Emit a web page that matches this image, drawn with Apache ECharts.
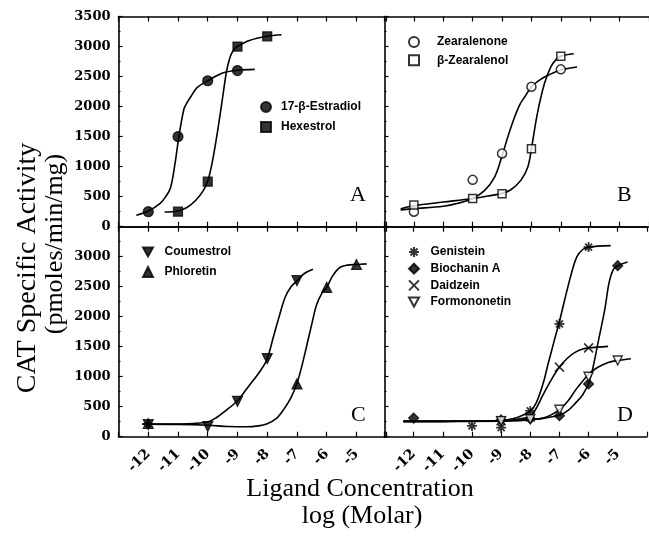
<!DOCTYPE html>
<html><head><meta charset="utf-8">
<script src="https://cdn.jsdelivr.net/npm/echarts@6/dist/echarts.min.js"></script>
<style>html,body{margin:0;padding:0;background:#fff}#c{width:649px;height:539px}</style>
</head><body><div id="c"></div>
<script>
// ---- axis ticks ----
const xTickLabels = [-12, -11, -10, -9, -8, -7, -6, -5];
const yTickValues = [0, 500, 1000, 1500, 2000, 2500, 3000, 3500];

// ---- Panel A ----
const estradiolX = [-12, -11, -10, -9];
const estradiolY = [250, 1500, 2430, 2600];
const hexestrolX = [-11, -10, -9, -8];
const hexestrolY = [250, 750, 3000, 3170];
const estradiolCurveX = [-12.4, -12, -11.6, -11.4, -11.25, -11.1, -10.97, -10.8, -10.7, -10.55, -10.35, -10, -9.5, -9, -8.42];
const estradiolCurveY = [190, 260, 390, 510, 650, 1050, 1500, 1960, 2060, 2180, 2320, 2430, 2560, 2605, 2620];
const hexestrolCurveX = [-11.45, -11, -10.7, -10.4, -10.15, -10, -9.9, -9.8, -9.65, -9.5, -9.37, -9.25, -9.12, -9, -8.6, -8, -7.52];
const hexestrolCurveY = [245, 262, 320, 440, 600, 760, 950, 1200, 1650, 2150, 2580, 2820, 2950, 3000, 3100, 3170, 3195];

// ---- Panel B ----
const zearalenoneX = [-12, -10, -9, -8, -7];
const zearalenoneY = [250, 780, 1220, 2330, 2620];
const zearalenolX = [-12, -10, -9, -8, -7];
const zearalenolY = [360, 470, 550, 1300, 2840];
const zearalenoneCurveX = [-12.45, -12, -11, -10.5, -10, -9.6, -9.25, -9, -8.8, -8.57, -8.4, -8.23, -8, -7.7, -7.4, -7, -6.45];
const zearalenoneCurveY = [280, 300, 340, 390, 470, 600, 830, 1180, 1500, 1830, 2030, 2160, 2330, 2450, 2530, 2610, 2660];
const zearalenolCurveX = [-12.45, -12, -11, -10, -9.5, -9, -8.7, -8.35, -8.12, -8, -7.8, -7.56, -7.34, -7.15, -7, -6.56];
const zearalenolCurveY = [300, 350, 410, 470, 510, 555, 615, 780, 1000, 1300, 1880, 2380, 2660, 2790, 2840, 2880];

// ---- Panel C ----
const coumestrolX = [-12, -10, -9, -8, -7];
const coumestrolY = [200, 170, 590, 1300, 2600];
const phloretinX = [-12, -7, -6, -5];
const phloretinY = [220, 880, 2490, 2870];
const coumestrolCurveX = [-12.2, -11.5, -11, -10.5, -10, -9.7, -9.37, -9, -8.7, -8.47, -8.2, -8, -7.8, -7.6, -7.4, -7.2, -7, -6.75, -6.46];
const coumestrolCurveY = [210, 210, 212, 220, 245, 320, 443, 600, 790, 940, 1120, 1300, 1650, 2000, 2320, 2500, 2600, 2720, 2790];
const phloretinCurveX = [-12.2, -11, -10, -9.3, -8.7, -8.3, -8, -7.7, -7.46, -7.2, -7, -6.85, -6.68, -6.5, -6.34, -6.15, -6, -5.8, -5.56, -5.3, -5, -4.66];
const phloretinCurveY = [210, 205, 190, 170, 165, 180, 215, 300, 443, 650, 890, 1150, 1500, 1880, 2200, 2400, 2490, 2680, 2820, 2860, 2870, 2880];

// ---- Panel D ----
const genisteinX = [-10, -9, -8, -7, -6];
const genisteinY = [180, 150, 430, 1880, 3160];
const biochaninX = [-12, -9, -8, -7, -6, -5];
const biochaninY = [310, 280, 300, 350, 880, 2850];
const daidzeinX = [-9, -8, -7, -6];
const daidzeinY = [270, 330, 1160, 1480];
const formononetinX = [-9, -8, -7, -6, -5];
const formononetinY = [260, 290, 450, 1000, 1270];
const genisteinCurveX = [-12.35, -11, -10, -9, -8.6, -8.3, -8, -7.8, -7.56, -7.4, -7.2, -7, -6.8, -6.6, -6.4, -6.2, -6, -5.24];
const genisteinCurveY = [255, 256, 258, 265, 300, 350, 430, 560, 886, 1190, 1560, 1920, 2320, 2700, 3000, 3120, 3160, 3185];
const biochaninCurveX = [-12.35, -11, -10, -9, -8.5, -8, -7.5, -7, -6.7, -6.45, -6.2, -6, -5.85, -5.67, -5.44, -5.3, -5.15, -5, -4.66];
const biochaninCurveY = [255, 256, 258, 262, 270, 285, 310, 360, 440, 560, 700, 890, 1150, 1580, 2130, 2560, 2790, 2850, 2910];
const daidzeinCurveX = [-12.35, -9, -8.5, -8.2, -8, -7.8, -7.56, -7.3, -7, -6.7, -6.45, -6.2, -6, -5.33];
const daidzeinCurveY = [255, 262, 285, 310, 340, 470, 700, 930, 1160, 1320, 1410, 1460, 1480, 1505];
const formononetinCurveX = [-12.35, -9, -8.5, -8, -7.56, -7.3, -7, -6.7, -6.45, -6.2, -6, -5.8, -5.55, -5.3, -5, -4.55];
const formononetinCurveY = [255, 258, 265, 285, 310, 360, 450, 600, 776, 930, 1040, 1120, 1190, 1240, 1270, 1300];

const pairs = (xs, ys) => xs.map((x, i) => [x, ys[i]]);

const grids = [
  { left: 118.5, top: 16.5, width: 267.7, height: 210.2 },
  { left: 384.5, top: 16.5, width: 268.7, height: 210.2 },
  { left: 118.5, top: 226.7, width: 267.7, height: 210 },
  { left: 384.5, top: 226.7, width: 268.7, height: 210 }
];

const xAxes = [];
const yAxes = [];
grids.forEach((g, k) => {
  const showLab = k >= 2;
  const base = {
    type: 'value', gridIndex: k, min: -13, max: -4, interval: 1,
    axisLine: { show: true, onZero: false, lineStyle: { color: '#000', width: 1.6 } },
    axisTick: { show: true, inside: true, length: 5, lineStyle: { color: '#000', width: 1.2 } },
    splitLine: { show: false }
  };
  xAxes.push(Object.assign({}, base, {
    position: 'bottom',
    axisLabel: {
      show: showLab, rotate: 45, margin: 15, color: '#000',
      fontFamily: 'DejaVu Serif', fontWeight: 'bold', fontSize: 14,
      formatter: v => (xTickLabels.indexOf(Math.round(v)) >= 0 ? String(Math.round(v)) : '')
    }
  }));
  xAxes.push(Object.assign({}, base, { position: 'top', axisLabel: { show: false } }));
  const showY = (k === 0 || k === 2);
  yAxes.push({
    type: 'value', gridIndex: k, min: 0, max: 3500, interval: 500,
    axisLine: { show: true, onZero: false, lineStyle: { color: '#000', width: 1.6 } },
    axisTick: { show: true, inside: true, length: 4, lineStyle: { color: '#000', width: 1.2 } },
    minorTick: { show: true, splitNumber: 2, length: 2, lineStyle: { color: '#000', width: 1 } },
    splitLine: { show: false },
    axisLabel: {
      show: showY, margin: 8, color: '#000',
      fontFamily: 'DejaVu Serif', fontWeight: 'bold', fontSize: 13,
      formatter: v => (k === 2 && v === 3500) ? '' : (yTickValues.indexOf(v) >= 0 ? String(v) : '')
    }
  });
});

const series = [];
function curve(k, xs, ys) {
  series.push({
    type: 'line', xAxisIndex: 2 * k, yAxisIndex: k, data: pairs(xs, ys),
    smooth: 0.35, showSymbol: false, symbol: 'none', silent: true,
    lineStyle: { color: '#000', width: 1.6 }, z: 2
  });
}
function marks(k, name, xs, ys, symbol, size, opts) {
  opts = opts || {};
  series.push({
    type: 'scatter', name: name, xAxisIndex: 2 * k, yAxisIndex: k, data: pairs(xs, ys),
    symbol: symbol, symbolSize: size,
    itemStyle: {
      color: opts.open ? '#fff' : '#000',
      borderColor: '#000', borderWidth: opts.bw != null ? opts.bw : 1.2
    },
    z: 5
  });
}
const asterisk = 'path://M5,0L5,10M0,5L10,5M1.5,1.5L8.5,8.5M1.5,8.5L8.5,1.5';
const cross = 'path://M0,0L10,10M0,10L10,0';
const downTri = 'path://M0,0L10,0L5,9Z';

curve(0, estradiolCurveX, estradiolCurveY);
curve(0, hexestrolCurveX, hexestrolCurveY);
marks(0, '17-β-Estradiol', estradiolX, estradiolY, 'circle', 10);
marks(0, 'Hexestrol', hexestrolX, hexestrolY, 'rect', 9);

curve(1, zearalenoneCurveX, zearalenoneCurveY);
curve(1, zearalenolCurveX, zearalenolCurveY);
marks(1, 'Zearalenone', zearalenoneX, zearalenoneY, 'circle', 9, { open: true, bw: 1.5 });
marks(1, 'β-Zearalenol', zearalenolX, zearalenolY, 'rect', 8, { open: true, bw: 1.5 });

curve(2, coumestrolCurveX, coumestrolCurveY);
curve(2, phloretinCurveX, phloretinCurveY);
marks(2, 'Coumestrol', coumestrolX, coumestrolY, downTri, 10);
marks(2, 'Phloretin', phloretinX, phloretinY, 'triangle', 10);

curve(3, genisteinCurveX, genisteinCurveY);
curve(3, biochaninCurveX, biochaninCurveY);
curve(3, daidzeinCurveX, daidzeinCurveY);
curve(3, formononetinCurveX, formononetinCurveY);
marks(3, 'Genistein', genisteinX, genisteinY, asterisk, 10, { bw: 1.8 });
marks(3, 'Biochanin A', biochaninX, biochaninY, 'diamond', 10);
marks(3, 'Daidzein', daidzeinX, daidzeinY, cross, 9, { bw: 1.6 });
marks(3, 'Formononetin', formononetinX, formononetinY, downTri, 9, { open: true, bw: 1.4 });

function legend(names, left, top, gap, pad) {
  return {
    data: names, orient: 'vertical', left: left, top: top, itemWidth: 10, itemHeight: 10,
    itemGap: gap, selectedMode: false, padding: 0,
    textStyle: { fontFamily: 'Liberation Sans', fontWeight: 'bold', fontSize: 12, color: '#000', padding: [0, 0, 0, pad] }
  };
}

const serifTitle = { fontFamily: 'Liberation Serif', fontSize: 26, fill: '#000' };
const letterStyle = { fontFamily: 'Liberation Serif', fontSize: 22, fill: '#000', align: 'center', verticalAlign: 'middle' };

const option = {
  backgroundColor: '#fff',
  animation: false,
  grid: grids.map(g => Object.assign({ containLabel: false }, g)),
  xAxis: xAxes,
  yAxis: yAxes,
  legend: [
    legend(['17-β-Estradiol', 'Hexestrol'], 260, 101, 8, 5),
    legend(['Zearalenone', 'β-Zearalenol'], 408, 36, 6.3, 13),
    legend(['Coumestrol', 'Phloretin'], 142, 246, 8, 6.5),
    legend(['Genistein', 'Biochanin A', 'Daidzein', 'Formononetin'], 408, 246, 4.7, 6.5)
  ],
  series: series,
  graphic: [
    { type: 'text', left: 350, top: 184, style: Object.assign({ text: 'A' }, letterStyle) },
    { type: 'text', left: 617, top: 184, style: Object.assign({ text: 'B' }, letterStyle) },
    { type: 'text', left: 351, top: 404, style: Object.assign({ text: 'C' }, letterStyle) },
    { type: 'text', left: 617, top: 404, style: Object.assign({ text: 'D' }, letterStyle) },
    { type: 'text', x: 28, y: 268, rotation: Math.PI / 2,
      style: Object.assign({}, serifTitle, { text: 'CAT Specific Activity', align: 'center', verticalAlign: 'middle', fontSize: 28 }) },
    { type: 'text', x: 55, y: 244, rotation: Math.PI / 2,
      style: Object.assign({ text: '(pmoles/min/mg)', align: 'center', verticalAlign: 'middle' }, serifTitle) },
    { type: 'text', x: 360, y: 489,
      style: Object.assign({ text: 'Ligand Concentration', align: 'center', verticalAlign: 'middle' }, serifTitle) },
    { type: 'text', x: 362, y: 516,
      style: Object.assign({ text: 'log (Molar)', align: 'center', verticalAlign: 'middle' }, serifTitle) }
  ]
};

const chart = echarts.init(document.getElementById('c'), null, { renderer: 'canvas' });
chart.setOption(option);
</script>
</body></html>
